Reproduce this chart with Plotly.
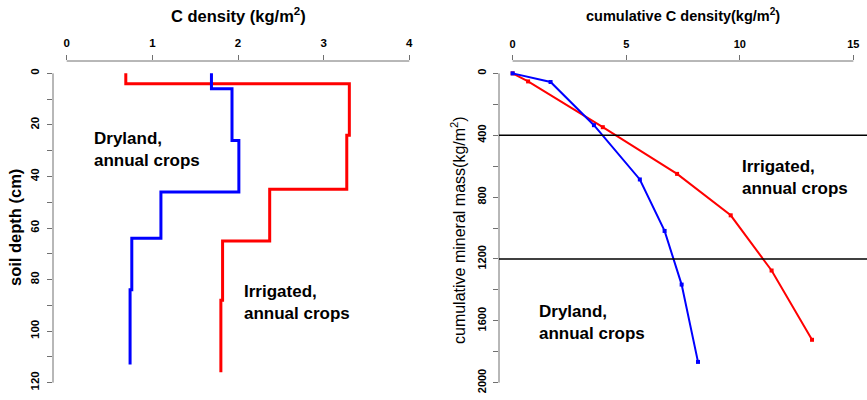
import plotly.graph_objects as go

# ---- Left panel: C density by soil layer (step profiles) ----
irr_depth_bounds = [0, 4, 24, 45, 65, 88, 116]
irr_density = [0.69, 3.30, 3.27, 2.37, 1.82, 1.80]
dry_depth_bounds = [0, 6, 26, 46, 64, 84, 113]
dry_density = [1.69, 1.93, 2.01, 1.10, 0.76, 0.74]

# ---- Right panel: cumulative C density vs cumulative mineral mass ----
irr_cum_c = [0, 0.68, 3.97, 7.24, 9.6, 11.4, 13.18]
irr_cum_mass = [0, 52, 348, 650, 918, 1275, 1723]
dry_cum_c = [0, 1.67, 3.58, 5.6, 6.69, 7.44, 8.16]
dry_cum_mass = [0, 56, 335, 686, 1019, 1366, 1866]
ref_mass_lines = [400, 1200]

left_xticks = [0, 1, 2, 3, 4]
right_xticks = [0, 5, 10, 15]

W, H = 867, 400
RED = "#FF0000"
BLUE = "#0000FF"
AXC = "#707070"
FONT = "Liberation Sans"


def steps(bounds, vals):
    xs, ys = [], []
    for i, v in enumerate(vals):
        xs += [v, v]
        ys += [bounds[i], bounds[i + 1]]
    return xs, ys


fig = go.Figure()
x, y = steps(irr_depth_bounds, irr_density)
fig.add_trace(go.Scatter(x=x, y=y, mode="lines", line=dict(color=RED, width=3),
                         xaxis="x", yaxis="y", showlegend=False))
x, y = steps(dry_depth_bounds, dry_density)
fig.add_trace(go.Scatter(x=x, y=y, mode="lines", line=dict(color=BLUE, width=3),
                         xaxis="x", yaxis="y", showlegend=False))

fig.add_trace(go.Scatter(x=irr_cum_c, y=irr_cum_mass, mode="lines+markers",
                         line=dict(color=RED, width=2), marker=dict(symbol="square", size=4, color=RED),
                         xaxis="x2", yaxis="y2", showlegend=False))
fig.add_trace(go.Scatter(x=dry_cum_c, y=dry_cum_mass, mode="lines+markers",
                         line=dict(color=BLUE, width=2), marker=dict(symbol="square", size=4, color=BLUE),
                         xaxis="x2", yaxis="y2", showlegend=False))

ytop = 1 - 61 / H
ybot = 1 - 395 / H
d1 = [53 / W, 423 / W]
d2 = [499 / W, 1.0]


def ax(size):
    return dict(showgrid=False, zeroline=False, showline=False, ticks="outside",
                ticklen=5, tickcolor=AXC, tickwidth=1, ticklabelstandoff=3,
                tickfont=dict(family=FONT, size=size, color="black", weight="bold"))


fig.update_layout(
    width=W, height=H, margin=dict(l=0, r=0, t=0, b=0),
    plot_bgcolor="white", paper_bgcolor="white",
    xaxis=dict(domain=d1, anchor="y", side="top", range=[-0.16, 4.16],
               tickvals=left_xticks, **ax(11.5)),
    yaxis=dict(domain=[ybot, ytop], anchor="x", range=[124.8, -4.8],
               tick0=0, dtick=20, tickangle=-90,
               minor=dict(dtick=10, ticks="outside", ticklen=5, tickcolor=AXC), **ax(11.5)),
    xaxis2=dict(domain=d2, anchor="y2", side="top", range=[-0.6, 15.6],
                tickvals=right_xticks, **ax(11)),
    yaxis2=dict(domain=[ybot, ytop], anchor="x2", range=[2080, -80],
                tick0=0, dtick=400, tickangle=-90,
                minor=dict(dtick=200, ticks="outside", ticklen=5, tickcolor=AXC), **ax(11)),
)

# axis lines spanning only the tick range (R style)
shapes = [
    dict(type="line", xref="x", yref="paper", x0=0, x1=4, y0=ytop, y1=ytop, line=dict(color=AXC, width=1)),
    dict(type="line", xref="paper", yref="y", x0=d1[0], x1=d1[0], y0=0, y1=120, line=dict(color=AXC, width=1)),
    dict(type="line", xref="x2", yref="paper", x0=0, x1=15, y0=ytop, y1=ytop, line=dict(color=AXC, width=1)),
    dict(type="line", xref="paper", yref="y2", x0=d2[0], x1=d2[0], y0=0, y1=2000, line=dict(color=AXC, width=1)),
]
for m in ref_mass_lines:
    shapes.append(dict(type="line", xref="x2 domain", yref="y2", x0=0, x1=1, y0=m, y1=m,
                       line=dict(color="black", width=1.5)))
fig.update_layout(shapes=shapes)

lab = dict(family=FONT, size=17, color="black", weight="bold")


def A(text, px, py, font, angle=0, xa="center"):
    return dict(text=text, x=px / W, y=1 - py / H, xref="paper", yref="paper",
                xanchor=xa, yanchor="middle", align="left", textangle=angle,
                showarrow=False, font=font)


ann = [
    A("C density (kg/m<sup>2</sup>)", 238, 15, dict(family=FONT, size=16.5, color="black", weight="bold")),
    A("cumulative C density(kg/m<sup>2</sup>)", 683, 15, dict(family=FONT, size=14.5, color="black", weight="bold")),
    A("soil depth (cm)", 15, 228, dict(family=FONT, size=16.5, color="black", weight="bold"), angle=-90),
    A("cumulative mineral mass(kg/m<sup>2</sup>)", 458, 230, dict(family=FONT, size=16, color="black"), angle=-90),
    A("Dryland,<br>annual crops", 92, 149, lab, xa="left"),
    A("Irrigated,<br>annual crops", 242, 302, lab, xa="left"),
    A("Irrigated,<br>annual crops", 740, 177, lab, xa="left"),
    A("Dryland,<br>annual crops", 537, 322, lab, xa="left"),
]
fig.update_layout(annotations=ann)

fig.write_html("out.html")
